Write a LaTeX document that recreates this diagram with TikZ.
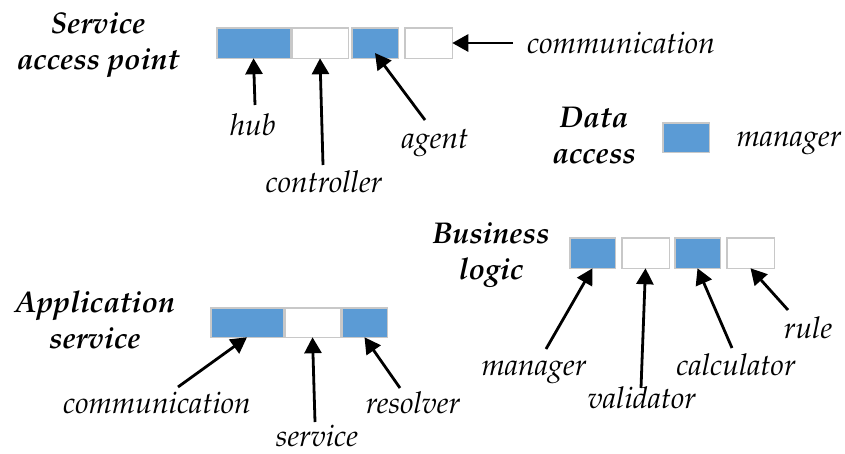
\documentclass[tikz,border=0pt]{standalone}
\usepackage[T1]{fontenc}
\usepackage{mathpazo}
\usetikzlibrary{arrows.meta,calc}
\definecolor{cellblue}{HTML}{5B9BD5}
\definecolor{cellgray}{HTML}{C8C8C8}
\begin{document}
\begin{tikzpicture}[x=1pt,y=-1pt,
  cell/.style={draw=cellgray,line width=1.5pt,inner sep=0pt,outer sep=0pt},
  bcell/.style={cell,fill=cellblue},
  wcell/.style={cell,fill=white},
  lbl/.style={font=\fontsize{30}{32}\selectfont\itshape,anchor=base,inner sep=0pt},
  ttl/.style={font=\fontsize{30}{36}\selectfont\bfseries\itshape,align=center,inner sep=0pt},
  arr/.style={line width=2.8pt,-{Triangle[length=16pt,width=17pt]}}]
\useasboundingbox[fill=white] (0,0) rectangle (845,453);

% Service access point
\node[ttl] (tsap) at (98,44.5) {Service\\access point};
\node[bcell,minimum width=73.5pt,minimum height=30.5pt] (s1) at (253.5,43) {};
\node[wcell,minimum width=56.5pt,minimum height=30.5pt] (s2) at (320,43) {};
\node[bcell,minimum width=46.5pt,minimum height=30.5pt] (s3) at (375,43) {};
\node[wcell,minimum width=47.5pt,minimum height=30.5pt] (s4) at (428.5,43) {};
\node[lbl] (hub) at (253,135) {hub};
\node[lbl] (ctrl) at (324,192) {controller};
\node[lbl] (agent) at (435,148) {agent};
\node[lbl,anchor=base west] (comm1) at (527,53) {communication};
\draw[arr] ($(hub.base)+(2,-30)$) -- (s1.south);
\draw[arr] ($(ctrl.base)+(-1,-27)$) -- (s2.south);
\draw[arr] ($(agent.base)+(-10,-28)$) -- ($(s3.center)+(0,10)$);
\draw[arr] ($(comm1.base west)+(-14,-10)$) -- (s4.east);

% Data access
\node[ttl] (tda) at (594,135.5) {Data\\access};
\node[bcell,minimum width=46.5pt,minimum height=29.5pt] (d1) at (686,137.5) {};
\node[lbl] (dman) at (789,146) {manager};

% Business logic
\node[ttl] (tbl) at (491,254.5) {Business\\logic};
\node[bcell,minimum width=45.5pt,minimum height=30.5pt] (b1) at (592.5,253) {};
\node[wcell,minimum width=47.5pt,minimum height=30.5pt] (b2) at (645.5,253) {};
\node[bcell,minimum width=45.5pt,minimum height=30.5pt] (b3) at (697.5,253) {};
\node[wcell,minimum width=47.5pt,minimum height=30.5pt] (b4) at (750.5,253) {};
\node[lbl] (bman) at (534,375) {manager};
\node[lbl] (bval) at (642,408) {validator};
\node[lbl] (bcal) at (736,375) {calculator};
\node[lbl] (brule) at (808,338) {rule};
\draw[arr] ($(bman.base)+(12,-26)$) -- (b1.south);
\draw[arr] ($(bval.base)+(-1,-20)$) -- (b2.south);
\draw[arr] ($(bcal.base)+(-4,-27)$) -- (b3.south);
\draw[arr] ($(brule.base)+(-20,-28)$) -- (b4.south);

% Application service
\node[ttl] (tas) at (95,320) {Application\\service};
\node[bcell,minimum width=72.5pt,minimum height=29.5pt] (a1) at (247,322.5) {};
\node[wcell,minimum width=55.5pt,minimum height=29.5pt] (a2) at (312.5,322.5) {};
\node[bcell,minimum width=45.5pt,minimum height=29.5pt] (a3) at (364.5,322.5) {};
\node[lbl] (acomm) at (157,413) {communication};
\node[lbl] (aserv) at (317,446) {service};
\node[lbl] (ares) at (413,413) {resolver};
\draw[arr] ($(acomm.base)+(21,-26)$) -- (a1.south);
\draw[arr] ($(aserv.base)+(-2,-24)$) -- (a2.south);
\draw[arr] ($(ares.base)+(-13,-25)$) -- (a3.south);
\end{tikzpicture}
\end{document}
